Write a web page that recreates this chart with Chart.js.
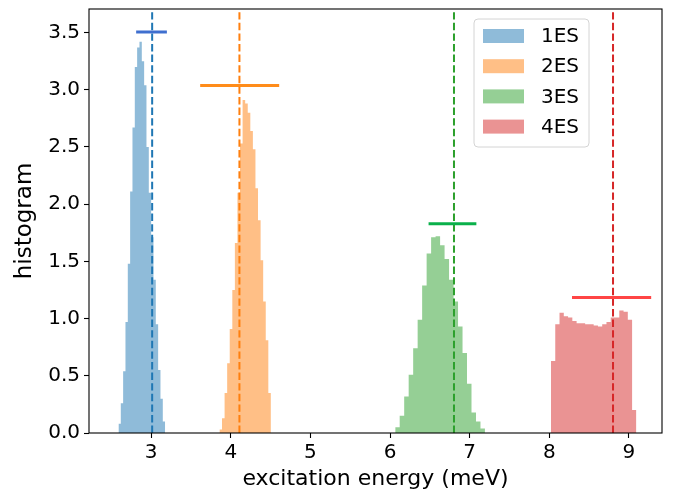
<!DOCTYPE html>
<html><head><meta charset="utf-8">
<script src="https://cdn.jsdelivr.net/npm/chart.js@4/dist/chart.umd.min.js"></script>
<style>html,body{margin:0;padding:0;background:#fff}#wrap{width:679px;height:494px}</style>
</head><body><div id="wrap"><canvas id="c" width="679" height="494"></canvas></div>
<script>
// ---- data ----
const seriesNames = ['1ES', '2ES', '3ES', '4ES'];
// histogram bin ranges (meV), 20 equal bins each
const binRange1 = [2.590, 3.176];
const binRange2 = [3.858, 4.504];
const binRange3 = [6.065, 7.192];
const binRange4 = [8.021, 9.093];
// density heights per bin
const hist1 = [0.08, 0.26, 0.54, 0.97, 1.48, 2.11, 2.67, 3.20, 3.37, 3.42, 3.25, 3.04, 2.50, 2.10, 1.71, 1.34, 0.95, 0.55, 0.30, 0.10];
const hist2 = [0.03, 0.13, 0.35, 0.61, 0.91, 1.25, 1.66, 2.10, 2.53, 2.91, 2.88, 2.80, 2.64, 2.48, 2.14, 1.86, 1.51, 1.15, 0.81, 0.35];
const hist3 = [0.05, 0.15, 0.32, 0.51, 0.74, 0.99, 1.29, 1.57, 1.71, 1.72, 1.64, 1.52, 1.34, 1.15, 0.93, 0.70, 0.43, 0.18, 0.10, 0.04];
const hist4 = [0.63, 0.95, 1.05, 1.02, 1.01, 0.98, 0.96, 0.96, 0.95, 0.95, 0.94, 0.93, 0.95, 0.97, 1.01, 1.01, 1.07, 1.06, 0.99, 0.20];
// dashed vertical lines (meV)
const meanLines = [3.013, 4.109, 6.803, 8.800];
// horizontal error bars
const errCenters = [3.005, 4.112, 6.784, 8.782];
const errHalfWidths = [0.193, 0.496, 0.300, 0.497];
const errLevels = [3.505, 3.037, 1.830, 1.184];
// axes
const xTicks = [3, 4, 5, 6, 7, 8, 9];
const yTicks = [0, 0.5, 1.0, 1.5, 2.0, 2.5, 3.0, 3.5];
const xRange = [2.22, 9.415];
const yRange = [0, 3.706];
const xTitle = 'excitation energy (meV)';
const yTitle = 'histogram';

// ---- styles ----
const fillColors = ['rgba(31,119,180,0.5)', 'rgba(255,127,14,0.5)', 'rgba(44,160,44,0.5)', 'rgba(214,39,40,0.5)'];
const lineColors = ['#1f77b4', '#ff7f0e', '#2ca02c', '#d62728'];
const errColors = ['#3f6fcf', '#ff8c1a', '#0ab04a', '#ff4545'];
const FONT = 'DejaVu Sans';

const ranges = [binRange1, binRange2, binRange3, binRange4];
const hists = [hist1, hist2, hist3, hist4];

function histPoints(range, heights) {
  const n = heights.length;
  const w = (range[1] - range[0]) / n;
  const pts = [{x: range[0], y: 0}];
  heights.forEach((h, i) => pts.push({x: range[0] + i * w, y: h}));
  pts.push({x: range[1], y: 0});
  return pts;
}

const datasets = [];
hists.forEach((h, i) => datasets.push({
  label: seriesNames[i], isHist: true,
  data: histPoints(ranges[i], h),
  stepped: true, fill: 'origin',
  backgroundColor: fillColors[i], borderColor: 'rgba(0,0,0,0)', borderWidth: 0,
  pointRadius: 0, order: 3
}));
meanLines.forEach((m, i) => datasets.push({
  label: 'mean' + i,
  data: [{x: m, y: yRange[0]}, {x: m, y: yRange[1]}],
  borderColor: lineColors[i], borderWidth: 2, borderDash: [7.4, 3.2],
  pointRadius: 0, fill: false, order: 2
}));
errCenters.forEach((c, i) => datasets.push({
  label: 'err' + i,
  data: [{x: c - errHalfWidths[i], y: errLevels[i]}, {x: c + errHalfWidths[i], y: errLevels[i]}],
  borderColor: errColors[i], borderWidth: 3, borderCapStyle: 'butt',
  pointRadius: 0, fill: false, order: 1
}));

const framePlugin = {
  id: 'frame',
  afterDraw(chart) {
    const {ctx, chartArea: a} = chart;
    ctx.save();
    ctx.strokeStyle = '#000';
    ctx.lineWidth = 1.1;
    ctx.strokeRect(a.left, a.top, a.right - a.left, a.bottom - a.top);
    // legend
    const bx = a.right - 188, by = a.top + 10, bw = 115, bh = 128, r = 4;
    ctx.beginPath();
    ctx.moveTo(bx + r, by); ctx.lineTo(bx + bw - r, by); ctx.arcTo(bx + bw, by, bx + bw, by + r, r);
    ctx.lineTo(bx + bw, by + bh - r); ctx.arcTo(bx + bw, by + bh, bx + bw - r, by + bh, r);
    ctx.lineTo(bx + r, by + bh); ctx.arcTo(bx, by + bh, bx, by + bh - r, r);
    ctx.lineTo(bx, by + r); ctx.arcTo(bx, by, bx + r, by, r);
    ctx.closePath();
    ctx.fillStyle = 'rgba(255,255,255,0.8)';
    ctx.fill();
    ctx.strokeStyle = '#d4d4d4';
    ctx.lineWidth = 1;
    ctx.stroke();
    ctx.font = '20px "' + FONT + '"';
    ctx.textBaseline = 'middle';
    ctx.textAlign = 'left';
    chart.data.datasets.filter(d => d.isHist).forEach((d, i) => {
      const cy = by + 17 + i * 30.2;
      ctx.fillStyle = d.backgroundColor;
      ctx.fillRect(bx + 9, cy - 7, 41, 14);
      ctx.fillStyle = '#000';
      ctx.fillText(d.label, bx + 67, cy + 1);
    });
    ctx.restore();
  }
};

new Chart(document.getElementById('c'), {
  type: 'line',
  data: {datasets},
  options: {
    responsive: false, animation: false, devicePixelRatio: 1,
    layout: {padding: {top: 9, right: 17, left: 0, bottom: 0}},
    plugins: {legend: {display: false}, tooltip: {enabled: false}},
    elements: {line: {tension: 0}},
    scales: {
      x: {
        type: 'linear', min: xRange[0], max: xRange[1],
        afterBuildTicks: s => { s.ticks = xTicks.map(v => ({value: v})); },
        afterFit: s => { s.height = 61; s.paddingLeft = 0; s.paddingRight = 0; },
        grid: {drawOnChartArea: false, drawTicks: true, tickLength: 5, color: '#000', tickWidth: 1.1},
        border: {display: false},
        ticks: {padding: 3, color: '#000', font: {family: FONT, size: 20}, callback: v => String(v), maxRotation: 0},
        title: {display: true, text: xTitle, color: '#000', font: {family: FONT, size: 22}, padding: {top: 2, bottom: 2}}
      },
      y: {
        type: 'linear', min: yRange[0], max: yRange[1],
        afterBuildTicks: s => { s.ticks = yTicks.map(v => ({value: v})); },
        afterFit: s => { s.width = 89; s.paddingTop = 0; s.paddingBottom = 0; },
        grid: {drawOnChartArea: false, drawTicks: true, tickLength: 5, color: '#000', tickWidth: 1.1},
        border: {display: false},
        ticks: {padding: 4, color: '#000', font: {family: FONT, size: 20}, callback: v => Number(v).toFixed(1)},
        title: {display: true, text: yTitle, color: '#000', font: {family: FONT, size: 23}, padding: {top: 11, bottom: 11}}
      }
    }
  },
  plugins: [framePlugin]
});
</script>
</body></html>
